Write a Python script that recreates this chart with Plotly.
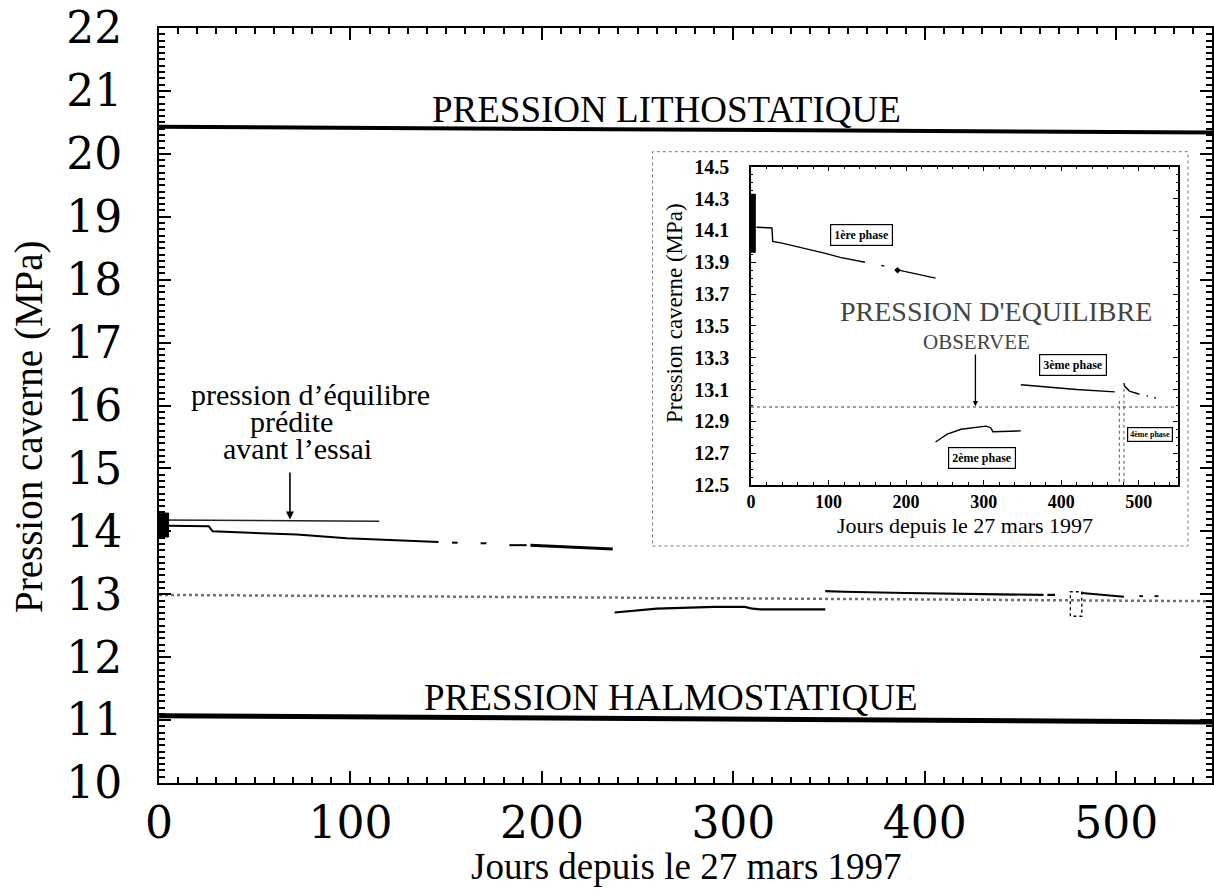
import plotly.graph_objects as go

# ---------------- main chart data ----------------
ref_days = [0, 550]
litho_vals = [20.43, 20.34]
halmo_vals = [11.07, 10.97]
eq_obs_vals = [12.99, 12.89]
pred_days = [0, 115]
pred_vals = [14.18, 14.16]
block_days = [0, 5, 5, 0, 0]
block_vals = [13.91, 13.91, 14.29, 14.29, 13.91]
p1_days = [5, 26, 28, 47, 72, 98, 146, None, 153, 156, None, 168, 171, None, 183, 192]
p1_vals = [14.09, 14.08, 14.00, 13.98, 13.95, 13.89, 13.83, None, 13.82, 13.82, None, 13.81, 13.81, None, 13.78, 13.78]
p1b_days = [194, 237]
p1b_vals = [13.78, 13.72]
p2_days = [238, 260, 290, 306, 310, 314, 348]
p2_vals = [12.71, 12.77, 12.80, 12.80, 12.77, 12.76, 12.76]
p3_days = [348, 358, 390, 430, 462, None, 464, 468]
p3_vals = [13.05, 13.04, 13.02, 13.00, 12.99, None, 12.99, 12.99]
p4_box_days = [476, 476, 482, 482, 476]
p4_box_vals = [12.65, 13.04, 13.04, 12.65, 12.65]
p4_days = [482, 490, 504, None, 512, 514, None, 520, 522]
p4_vals = [13.02, 13.00, 12.96, None, 12.97, 12.97, None, 12.97, 12.97]

main_xticks = [0, 100, 200, 300, 400, 500]
main_yticks = list(range(10, 23))

# ---------------- inset data ----------------
in_block_days = [3, 3]
in_block_vals = [13.96, 14.33]
in_p1_days = [7, 27, 28, 40, 96, 115, 147, None, 168, 172, None, 186, 238]
in_p1_vals = [14.12, 14.115, 14.03, 14.02, 13.955, 13.93, 13.90, None, 13.88, 13.875, None, 13.855, 13.80]
in_p1_mark_days = [189]
in_p1_mark_vals = [13.85]
in_eq_days = [0, 550]
in_eq_vals = [12.99, 12.99]
in_p2_days = [238, 253, 271, 303, 309, 312, 348]
in_p2_vals = [12.77, 12.82, 12.85, 12.87, 12.86, 12.835, 12.84]
in_p3_days = [348, 380, 420, 469]
in_p3_vals = [13.13, 13.115, 13.10, 13.085]
in_p4_days = [481, 482, 488, 501, None, 510, 512, None, 520, 522]
in_p4_vals = [13.14, 13.12, 13.09, 13.07, None, 13.06, 13.06, None, 13.05, 13.045]
in_p4_mark_days = [475, 475, None, 481, 481]
in_p4_mark_vals = [12.52, 13.05, None, 12.52, 13.14]
in_yticks = [12.5, 12.7, 12.9, 13.1, 13.3, 13.5, 13.7, 13.9, 14.1, 14.3, 14.5]
in_xticks = [0, 100, 200, 300, 400, 500]

W, H = 1214, 891
L, R, T, B = 159, 2, 28, 108
PW, PH = W - L - R, H - T - B


def px(xp):
    return (xp - L) / PW


def py(yp):
    return (H - B - yp) / PH


SERIF = "Liberation Serif"
fig = go.Figure()

# main traces
fig.add_trace(go.Scatter(x=ref_days, y=litho_vals, mode="lines", line=dict(color="black", width=4)))
fig.add_trace(go.Scatter(x=ref_days, y=halmo_vals, mode="lines", line=dict(color="black", width=5)))
fig.add_trace(go.Scatter(x=ref_days, y=eq_obs_vals, mode="lines", line=dict(color="#707070", width=2.5, dash="dot")))
fig.add_trace(go.Scatter(x=pred_days, y=pred_vals, mode="lines", line=dict(color="#222", width=1.6)))
fig.add_trace(go.Scatter(x=block_days, y=block_vals, mode="lines", fill="toself", fillcolor="black",
                         line=dict(color="black", width=1)))
fig.add_trace(go.Scatter(x=p1_days, y=p1_vals, mode="lines", line=dict(color="black", width=2)))
fig.add_trace(go.Scatter(x=p1b_days, y=p1b_vals, mode="lines", line=dict(color="black", width=3)))
fig.add_trace(go.Scatter(x=p2_days, y=p2_vals, mode="lines", line=dict(color="black", width=2.2)))
fig.add_trace(go.Scatter(x=p3_days, y=p3_vals, mode="lines", line=dict(color="black", width=2.2)))
fig.add_trace(go.Scatter(x=p4_box_days, y=p4_box_vals, mode="lines", line=dict(color="black", width=1.3, dash="dot")))
fig.add_trace(go.Scatter(x=p4_days, y=p4_vals, mode="lines", line=dict(color="black", width=1.8)))

# inset traces
ins = dict(xaxis="x2", yaxis="y2")
fig.add_trace(go.Scatter(x=in_eq_days, y=in_eq_vals, mode="lines", line=dict(color="#808080", width=1.3, dash="dot"), **ins))
fig.add_trace(go.Scatter(x=in_block_days, y=in_block_vals, mode="lines", line=dict(color="black", width=5), **ins))
fig.add_trace(go.Scatter(x=in_p1_days, y=in_p1_vals, mode="lines", line=dict(color="black", width=1.4), **ins))
fig.add_trace(go.Scatter(x=in_p1_mark_days, y=in_p1_mark_vals, mode="markers", marker=dict(color="black", size=5, symbol="diamond"), **ins))
fig.add_trace(go.Scatter(x=in_p2_days, y=in_p2_vals, mode="lines", line=dict(color="black", width=1.4), **ins))
fig.add_trace(go.Scatter(x=in_p3_days, y=in_p3_vals, mode="lines", line=dict(color="black", width=1.4), **ins))
fig.add_trace(go.Scatter(x=in_p4_days, y=in_p4_vals, mode="lines", line=dict(color="black", width=1.4), **ins))
fig.add_trace(go.Scatter(x=in_p4_mark_days, y=in_p4_mark_vals, mode="lines", line=dict(color="#555", width=1, dash="dot"), **ins))

main_axis = dict(showline=True, linecolor="black", linewidth=2, mirror="ticks", ticks="inside",
                 tickcolor="black", tickwidth=1.5, ticklen=12, showgrid=False, zeroline=False,
                 automargin=False,
                 tickfont=dict(family="DejaVu Serif", size=44, color="black"))

fig.update_layout(
    width=W, height=H, margin=dict(l=L, r=R, t=T, b=B, autoexpand=False),
    paper_bgcolor="white", plot_bgcolor="rgba(0,0,0,0)", showlegend=False,
    xaxis=dict(range=[0, 550], tickvals=main_xticks, ticklabelstandoff=0,
               minor=dict(dtick=10, ticklen=6, tickcolor="black", ticks="inside"), **main_axis),
    yaxis=dict(range=[10, 22], tickvals=main_yticks, ticklabelstandoff=26,
               minor=dict(dtick=0.1, ticklen=6, tickcolor="black", ticks="inside"), **main_axis),
    xaxis2=dict(domain=[px(751), px(1177.5)], anchor="y2", range=[0, 550], tickvals=in_xticks,
                showline=True, linecolor="black", linewidth=1.5, mirror="ticks", ticks="inside",
                ticklen=5, tickcolor="black", showgrid=False, zeroline=False, ticklabelstandoff=0,
                automargin=False,
                minor=dict(dtick=20, ticklen=3, tickcolor="black", ticks="inside"),
                tickfont=dict(family=SERIF, size=18, color="black", weight="bold")),
    yaxis2=dict(domain=[py(485), py(166.7)], anchor="x2", range=[12.5, 14.5], tickvals=in_yticks,
                ticktext=[f"{v:.1f}" for v in in_yticks],
                showline=True, linecolor="black", linewidth=1.5, mirror="ticks", ticks="inside",
                ticklen=5, tickcolor="black", showgrid=False, zeroline=False, ticklabelstandoff=16,
                automargin=False,
                minor=dict(dtick=0.05, ticklen=2, tickcolor="black", ticks="inside"),
                tickfont=dict(family=SERIF, size=20, color="black", weight="bold")),
)

# inset frame
fig.add_shape(type="rect", xref="paper", yref="paper", x0=px(652.5), x1=px(1188), y0=py(546), y1=py(151.7),
              line=dict(color="#777", width=1, dash="dot"), fillcolor="white", layer="below")

C = dict(xanchor="center", yanchor="middle", showarrow=False)
ann = []
# main titles
ann.append(dict(text="Pression caverne (MPa)", xref="paper", yref="paper", x=px(29), y=py(427),
                textangle=-90, font=dict(family=SERIF, size=39, color="black"), **C))
ann.append(dict(text="Jours depuis le 27 mars 1997", xref="paper", yref="paper", x=px(686), y=py(866),
                font=dict(family=SERIF, size=37, color="black"), **C))
# main labels
ann.append(dict(text="PRESSION LITHOSTATIQUE", x=265, y=20.70, xref="x", yref="y",
                font=dict(family=SERIF, size=37, color="black"), **C))
ann.append(dict(text="PRESSION HALMOSTATIQUE", x=267, y=11.36, xref="x", yref="y",
                font=dict(family=SERIF, size=37, color="black"), **C))
ann.append(dict(text="pression d’équilibre", x=79, y=16.18, xref="x", yref="y",
                font=dict(family=SERIF, size=30, color="black"), **C))
ann.append(dict(text="prédite", x=69, y=15.75, xref="x", yref="y",
                font=dict(family=SERIF, size=30, color="black"), **C))
ann.append(dict(text="avant l’essai", x=72.3, y=15.32, xref="x", yref="y",
                font=dict(family=SERIF, size=30, color="black"), **C))
ann.append(dict(text="", x=68.4, y=14.19, ax=68.4, ay=14.96, xref="x", yref="y", axref="x", ayref="y",
                showarrow=True, arrowhead=2, arrowsize=1, arrowwidth=1.6, arrowcolor="black"))
# inset titles
ann.append(dict(text="Pression caverne (MPa)", xref="paper", yref="paper", x=px(674), y=py(313),
                textangle=-90, font=dict(family=SERIF, size=23, color="black"), **C))
ann.append(dict(text="Jours depuis le 27 mars 1997", xref="paper", yref="paper", x=px(965), y=py(525),
                font=dict(family=SERIF, size=22, color="black"), **C))
# inset labels
ann.append(dict(text="PRESSION D'EQUILIBRE", x=315.6, y=13.59, xref="x2", yref="y2",
                font=dict(family=SERIF, size=28, color="#444"), **C))
ann.append(dict(text="OBSERVEE", x=291, y=13.40, xref="x2", yref="y2",
                font=dict(family=SERIF, size=21, color="#444"), **C))
ann.append(dict(text="", x=289.4, y=12.995, ax=289.4, ay=13.33, xref="x2", yref="y2", axref="x2", ayref="y2",
                showarrow=True, arrowhead=2, arrowsize=0.8, arrowwidth=1.3, arrowcolor="black"))
box = dict(showarrow=False, bordercolor="black", borderwidth=1.2, bgcolor="white", xref="x2", yref="y2",
           xanchor="center", yanchor="middle")
ann.append(dict(text="<b>1ère phase</b>", x=142.5, y=14.07, borderpad=3, font=dict(family=SERIF, size=12, color="black"), **box))
ann.append(dict(text="<b>3ème phase</b>", x=414.7, y=13.255, borderpad=3, font=dict(family=SERIF, size=12, color="black"), **box))
ann.append(dict(text="<b>2ème phase</b>", x=297.5, y=12.67, borderpad=3, font=dict(family=SERIF, size=12, color="black"), **box))
ann.append(dict(text="<b>4ème phase</b>", x=514.8, y=12.82, borderpad=2, font=dict(family=SERIF, size=8, color="black"), **box))

fig.update_layout(annotations=ann)
fig.write_html("out.html", config={"displayModeBar": False},
               post_script="document.body.style.margin='0';document.body.style.overflow='hidden';")
